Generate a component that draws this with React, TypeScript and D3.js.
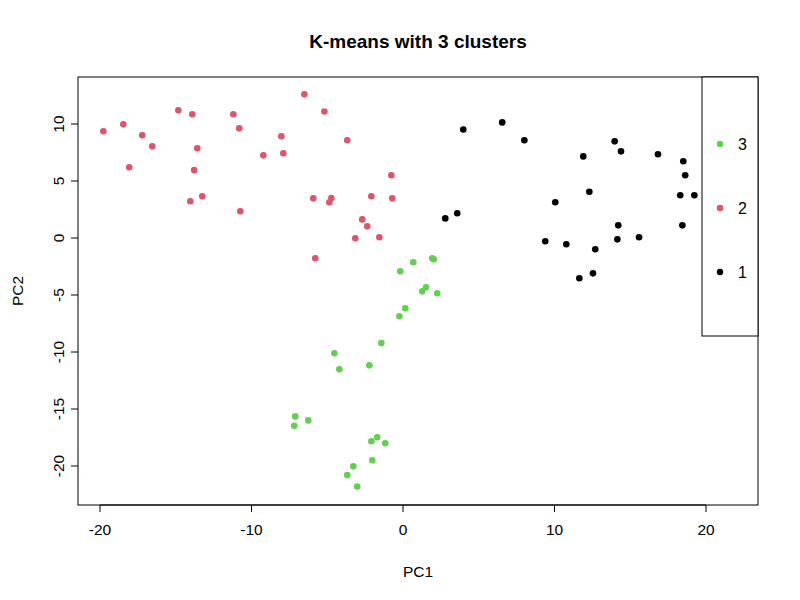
import React from "react";
import * as d3 from "d3";

const redX = [-19.78,-18.46,-17.21,-16.55,-18.07,-14.83,-13.91,-13.58,-13.78,-14.04,-13.25,-11.2,-10.81,-10.74,-9.22,-7.9,-8.03,-6.51,-5.19,-3.68,-5.92,-4.73,-4.86,-5.79,-2.09,-0.77,-0.71,-2.69,-2.36,-3.15,-1.56];
const redY = [9.36,9.97,9.01,8.04,6.2,11.2,10.85,7.87,5.95,3.22,3.66,10.85,9.62,2.35,7.25,7.43,8.92,12.6,11.1,8.57,3.48,3.51,3.13,-1.77,3.66,5.5,3.48,1.63,1.02,-0.03,0.06];
const greenX = [1.93,2.03,0.68,-0.18,1.52,1.27,2.26,0.15,-0.24,-1.43,-4.53,-2.22,-4.2,-7.11,-7.18,-6.25,-2.09,-1.7,-1.17,-2.03,-3.28,-3.68,-3.02];
const greenY = [-1.78,-1.87,-2.13,-2.92,-4.33,-4.68,-4.85,-6.17,-6.87,-9.22,-10.11,-11.17,-11.52,-15.65,-16.47,-16.0,-17.83,-17.48,-18.0,-19.5,-20.03,-20.8,-21.8];
const blackX = [3.98,6.55,8.01,2.79,3.58,10.05,11.9,12.3,9.39,10.78,12.69,11.64,12.54,13.97,14.39,14.21,14.15,15.58,16.83,18.5,18.63,18.3,19.23,18.44];
const blackY = [9.52,10.14,8.57,1.72,2.17,3.13,7.16,4.06,-0.29,-0.55,-0.99,-3.53,-3.1,8.48,7.6,1.11,-0.12,0.06,7.34,6.73,5.5,3.75,3.75,1.11];
const xTicks = [-20, -10, 0, 10, 20];
const yTicks = [-20, -15, -10, -5, 0, 5, 10];
const legendLabels = ["3", "2", "1"];
const colors = { "1": "#000000", "2": "#DF536B", "3": "#61D04F" };

export default function App() {
  const x = d3.scaleLinear().domain([-20, 20]).range([100, 706]);
  const y = d3.scaleLinear().domain([-20, 10]).range([466, 124]);
  const L = 78, R = 758, T = 77, B = 505;
  const font = "Liberation Sans, Arial, sans-serif";
  const series = [
    { xs: redX, ys: redY, c: colors["2"] },
    { xs: greenX, ys: greenY, c: colors["3"] },
    { xs: blackX, ys: blackY, c: colors["1"] },
  ];
  return (
    <svg width={800} height={600} style={{ position: "absolute", left: 0, top: 0, background: "#fff" }} fontFamily={font}>
      <rect x={0} y={0} width={800} height={600} fill="#fff" />
      <text x={(L + R) / 2} y={48} textAnchor="middle" fontWeight="bold" fontSize={19}>K-means with 3 clusters</text>
      <rect x={L} y={T} width={R - L} height={B - T} fill="none" stroke="#000" />
      {xTicks.map((t) => (
        <g key={"x" + t}>
          <line x1={x(t)} x2={x(t)} y1={B} y2={B + 7} stroke="#000" />
          <text x={x(t)} y={B + 30} textAnchor="middle" fontSize={15.5}>{t}</text>
        </g>
      ))}
      <line x1={x(-20)} x2={x(20)} y1={B} y2={B} stroke="#000" />
      {yTicks.map((t) => (
        <g key={"y" + t}>
          <line x1={L - 7} x2={L} y1={y(t)} y2={y(t)} stroke="#000" />
          <text transform={`translate(${L - 14},${y(t)}) rotate(-90)`} textAnchor="middle" fontSize={15.5}>{t}</text>
        </g>
      ))}
      <text x={(L + R) / 2} y={577} textAnchor="middle" fontSize={15.5}>PC1</text>
      <text transform={`translate(23,${(T + B) / 2}) rotate(-90)`} textAnchor="middle" fontSize={15.5}>PC2</text>
      {series.map((s, i) => s.xs.map((v, j) => (
        <circle key={i + "-" + j} cx={x(v)} cy={y(s.ys[j])} r={3.3} fill={s.c} />
      )))}
      <rect x={702} y={T} width={R - 702} height={336 - T} fill="#fff" stroke="#000" />
      {legendLabels.map((l, i) => (
        <g key={l}>
          <circle cx={720} cy={144 + i * 64} r={3.2} fill={colors[l as "1"]} />
          <text x={738} y={150 + i * 64} fontSize={16}>{l}</text>
        </g>
      ))}
    </svg>
  );
}
